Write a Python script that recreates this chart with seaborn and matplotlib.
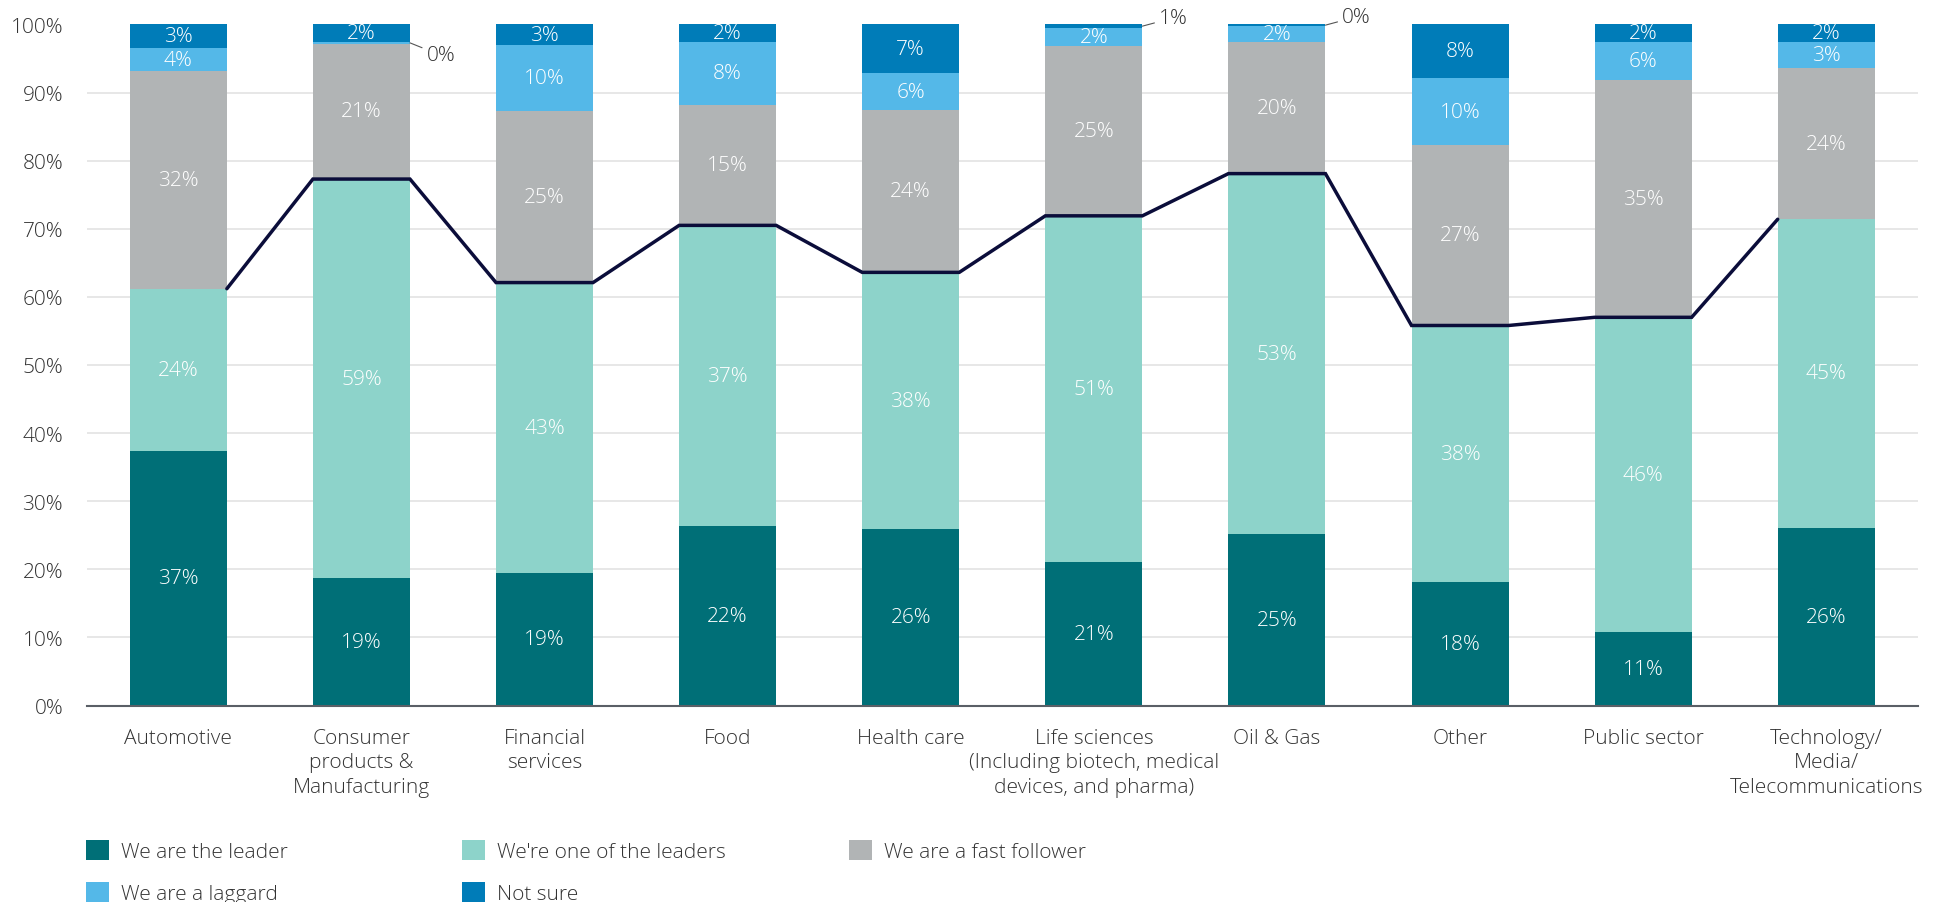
import matplotlib
matplotlib.use("Agg")
import numpy as np
import matplotlib.pyplot as plt
import seaborn as sns
from matplotlib.patches import Patch

# Categories and x tick labels
categories = ["Automotive", "Consumer", "Financial", "Food", "Health care",
              "Life sciences", "Oil & Gas", "Other", "Public sector", "Technology"]
tick_labels = ["Automotive", "Consumer\nproducts &\nManufacturing", "Financial\nservices",
               "Food", "Health care",
               "Life sciences\n(Including biotech, medical\ndevices, and pharma)",
               "Oil & Gas", "Other", "Public sector",
               "Technology/\nMedia/\nTelecommunications"]
y_ticks = [0, 10, 20, 30, 40, 50, 60, 70, 80, 90, 100]

series_names = ["We are the leader", "We're one of the leaders", "We are a fast follower",
                "We are a laggard", "Not sure"]

# Segment heights (as drawn)
leader = [37.3, 18.7, 19.5, 26.4, 25.9, 21.1, 25.2, 18.1, 10.8, 26.1]
one_of_leaders = [23.9, 58.6, 42.6, 44.1, 37.7, 50.8, 52.9, 37.7, 46.2, 45.3]
fast_follower = [32.0, 19.9, 25.2, 17.7, 23.8, 24.9, 19.3, 26.5, 34.8, 22.2]
laggard = [3.3, 0.2, 9.7, 9.2, 5.5, 2.7, 2.4, 9.8, 5.6, 3.8]
not_sure = [3.5, 2.6, 3.0, 2.6, 7.1, 0.5, 0.2, 7.9, 2.6, 2.6]

# Printed labels
leader_lbl = [37, 19, 19, 22, 26, 21, 25, 18, 11, 26]
one_of_leaders_lbl = [24, 59, 43, 37, 38, 51, 53, 38, 46, 45]
fast_follower_lbl = [32, 21, 25, 15, 24, 25, 20, 27, 35, 24]
laggard_lbl = [4, 0, 10, 8, 6, 2, 2, 10, 6, 3]
not_sure_lbl = [3, 2, 3, 2, 7, 1, 0, 8, 2, 2]

colors = ["#006F77", "#8DD3CA", "#B1B4B5", "#54B8E8", "#007CB8"]
line_color = "#0B0D3A"
text_color = "#333333"
bar_w = 0.53
fs = 15

sns.set_style("white")
plt.rcParams["font.family"] = ["Open Sans", "DejaVu Sans"]

layers = np.array([leader, one_of_leaders, fast_follower, laggard, not_sure])
labels = [leader_lbl, one_of_leaders_lbl, fast_follower_lbl, laggard_lbl, not_sure_lbl]
cum = np.cumsum(layers, axis=0)

fig = plt.figure(figsize=(19.46, 9.03), dpi=100)
ax = fig.add_axes([0.0446, 0.2176, 0.9409, 0.7542])

# draw cumulative bars back to front
for k in range(len(layers) - 1, -1, -1):
    sns.barplot(x=categories, y=cum[k], color=colors[k], saturation=1, width=bar_w,
                errorbar=None, linewidth=0, ax=ax)

# segment labels
for k in range(len(layers)):
    for i in range(len(categories)):
        h = layers[k][i]
        mid = cum[k][i] - h / 2
        txt = f"{labels[k][i]}%"
        if h < 1.5:
            dy = 6 if k == len(layers) - 1 else -9
            ax.annotate(txt, xy=(i + bar_w / 2, mid), xytext=(12, dy),
                        textcoords="offset points", ha="left", va="center",
                        fontsize=fs, color=text_color, fontweight="light",
                        arrowprops=dict(arrowstyle="-", color="#555555", lw=0.8,
                                        shrinkA=1, shrinkB=0))
        else:
            ax.text(i, mid, txt, ha="center", va="center", color="white",
                    fontsize=fs, fontweight="light", zorder=6)

# line across the top of the "leaders" segment
top2 = cum[1]
xs, ys = [], []
n = len(categories)
for i in range(n):
    if i > 0:
        xs.append(i - bar_w / 2)
        ys.append(top2[i])
    if i < n - 1:
        xs.append(i + bar_w / 2)
        ys.append(top2[i])
ax.plot(xs, ys, color=line_color, lw=2.5, zorder=5, solid_joinstyle="miter")

ax.set_xlim(-0.5, n - 0.5)
ax.set_ylim(0, 100)
ax.set_yticks(y_ticks)
ax.set_yticklabels([f"{t}%" for t in y_ticks], fontsize=fs, color=text_color,
                   fontweight="light")
ax.set_xticks(range(n))
ax.set_xticklabels(tick_labels, fontsize=fs, color=text_color, linespacing=1.3,
                   fontweight="light")
ax.tick_params(axis="x", length=0, pad=16)
ax.tick_params(axis="y", length=0, pad=17)
ax.set_xlabel("")
ax.set_ylabel("")

ax.yaxis.grid(True, color="#E3E3E3", lw=1.2)
ax.get_ygridlines()[-1].set_visible(False)
ax.set_axisbelow(True)
for s in ["top", "right", "left"]:
    ax.spines[s].set_visible(False)
ax.spines["bottom"].set_color("#5A5F66")
ax.spines["bottom"].set_linewidth(1.5)

# legend, one entry at a time
legend_pos = [(86, 852), (462, 852), (849, 852), (86, 894), (462, 894)]
for k, (px, py) in enumerate(legend_pos):
    leg = fig.legend(handles=[Patch(facecolor=colors[k], edgecolor="none")],
                     labels=[series_names[k]], loc="center left",
                     bbox_to_anchor=(px / 1946, 1 - py / 903), frameon=False,
                     fontsize=fs, handlelength=1.1, handleheight=1.1,
                     handletextpad=0.6, borderpad=0, borderaxespad=0)
    for t in leg.get_texts():
        t.set_color(text_color)
        t.set_fontweight("light")

fig.savefig("out.png", dpi=100)
